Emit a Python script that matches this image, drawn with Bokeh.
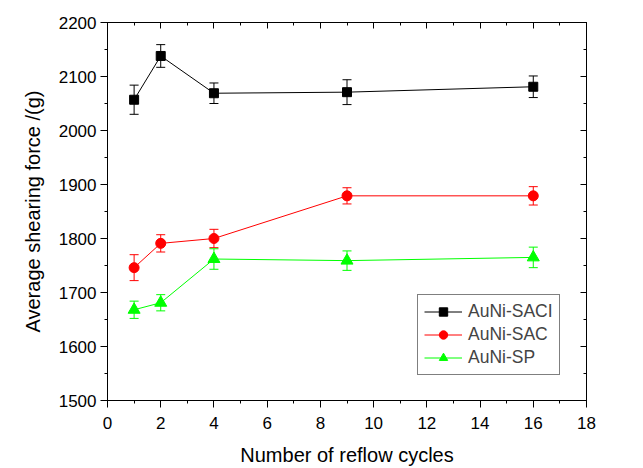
from bokeh.plotting import figure
from bokeh.models import (ColumnDataSource, Whisker, FixedTicker, Range1d, LinearAxis,
                          Legend, LegendItem)
from bokeh.embed import file_html
from bokeh.resources import INLINE

cycles = [1, 2, 4, 9, 16]
saci = [2057, 2138, 2069, 2071, 2081]
saci_err = [27, 21, 19, 23, 20]
sac = [1746, 1791, 1800, 1879, 1879]
sac_err = [24, 16, 17, 15, 17]
sp = [1668, 1681, 1762, 1759, 1765]
sp_err = [16, 15, 19, 18, 19]

x_ticks = list(range(0, 19, 2))
x_minor = list(range(0, 19, 1))
y_ticks = list(range(1500, 2201, 100))
y_minor = list(range(1500, 2201, 50))

FONT = "Liberation Sans"

p = figure(width=635, height=468, output_backend="svg", toolbar_location=None,
           x_range=Range1d(0, 18), y_range=Range1d(1500, 2200),
           min_border_left=107, min_border_right=49, min_border_top=22, min_border_bottom=68)
p.xgrid.visible = False
p.ygrid.visible = False
p.outline_line_color = "black"
p.outline_line_width = 1
p.background_fill_color = "white"
p.border_fill_color = "white"

p.xaxis.ticker = FixedTicker(ticks=x_ticks, minor_ticks=x_minor)
p.yaxis.ticker = FixedTicker(ticks=y_ticks, minor_ticks=y_minor)
for ax in (p.xaxis[0], p.yaxis[0]):
    ax.major_tick_out = 7
    ax.major_tick_in = 0
    ax.minor_tick_out = 3
    ax.minor_tick_in = 0
    ax.axis_line_color = "black"
    ax.major_tick_line_color = "black"
    ax.minor_tick_line_color = "black"
    ax.major_label_text_font = FONT
    ax.major_label_text_font_size = "17px"
    ax.major_label_text_color = "black"
    ax.axis_label_text_font = FONT
    ax.axis_label_text_font_size = "20px"
    ax.axis_label_text_font_style = "normal"
    ax.axis_label_text_color = "black"
p.xaxis.axis_label = "Number of reflow cycles"
p.yaxis.axis_label = "Average shearing force /(g)"
p.xaxis.major_label_standoff = 9
p.yaxis.major_label_standoff = 4
p.xaxis.axis_label_standoff = 12
p.yaxis.axis_label_standoff = 12

top = LinearAxis(ticker=FixedTicker(ticks=x_ticks, minor_ticks=x_minor),
                 major_tick_in=6, major_tick_out=0, minor_tick_in=3, minor_tick_out=0,
                 major_label_overrides={t: "" for t in x_ticks},
                 axis_line_color="black")
right = LinearAxis(ticker=FixedTicker(ticks=y_ticks, minor_ticks=y_minor),
                   major_tick_in=6, major_tick_out=0, minor_tick_in=3, minor_tick_out=0,
                   major_label_overrides={t: "" for t in y_ticks},
                   axis_line_color="black")
p.add_layout(top, "above")
p.add_layout(right, "right")

series = [
    ("AuNi-SACI", saci, saci_err, "black", "square", 9),
    ("AuNi-SAC", sac, sac_err, "red", "circle", 10),
    ("AuNi-SP", sp, sp_err, "#00ff00", "triangle", 12),
]
items = []
for name, vals, errs, color, marker, size in series:
    src = ColumnDataSource(dict(x=cycles, y=vals,
                                lo=[v - e for v, e in zip(vals, errs)],
                                hi=[v + e for v, e in zip(vals, errs)]))
    w = Whisker(source=src, base="x", lower="lo", upper="hi", dimension="height",
                line_color=color, line_width=1)
    w.upper_head.size = 9
    w.lower_head.size = 9
    w.upper_head.line_color = color
    w.lower_head.line_color = color
    p.add_layout(w)
    l = p.line("x", "y", source=src, line_color=color, line_width=1)
    s = p.scatter("x", "y", source=src, marker=marker, size=size,
                  fill_color=color, line_color=color)
    items.append(LegendItem(label=name, renderers=[l, s]))

legend = Legend(items=items, location=(310, 25))
legend.border_line_color = "black"
legend.border_line_width = 1
legend.label_text_font = FONT
legend.label_text_font_size = "17.5px"
legend.glyph_width = 38
legend.glyph_height = 21
legend.spacing = 2
legend.padding = 6
legend.margin = 0
legend.label_standoff = 6
legend.label_height = 21
legend.background_fill_alpha = 1
p.add_layout(legend, "center")

open("out.html", "w").write(file_html(p, INLINE))
